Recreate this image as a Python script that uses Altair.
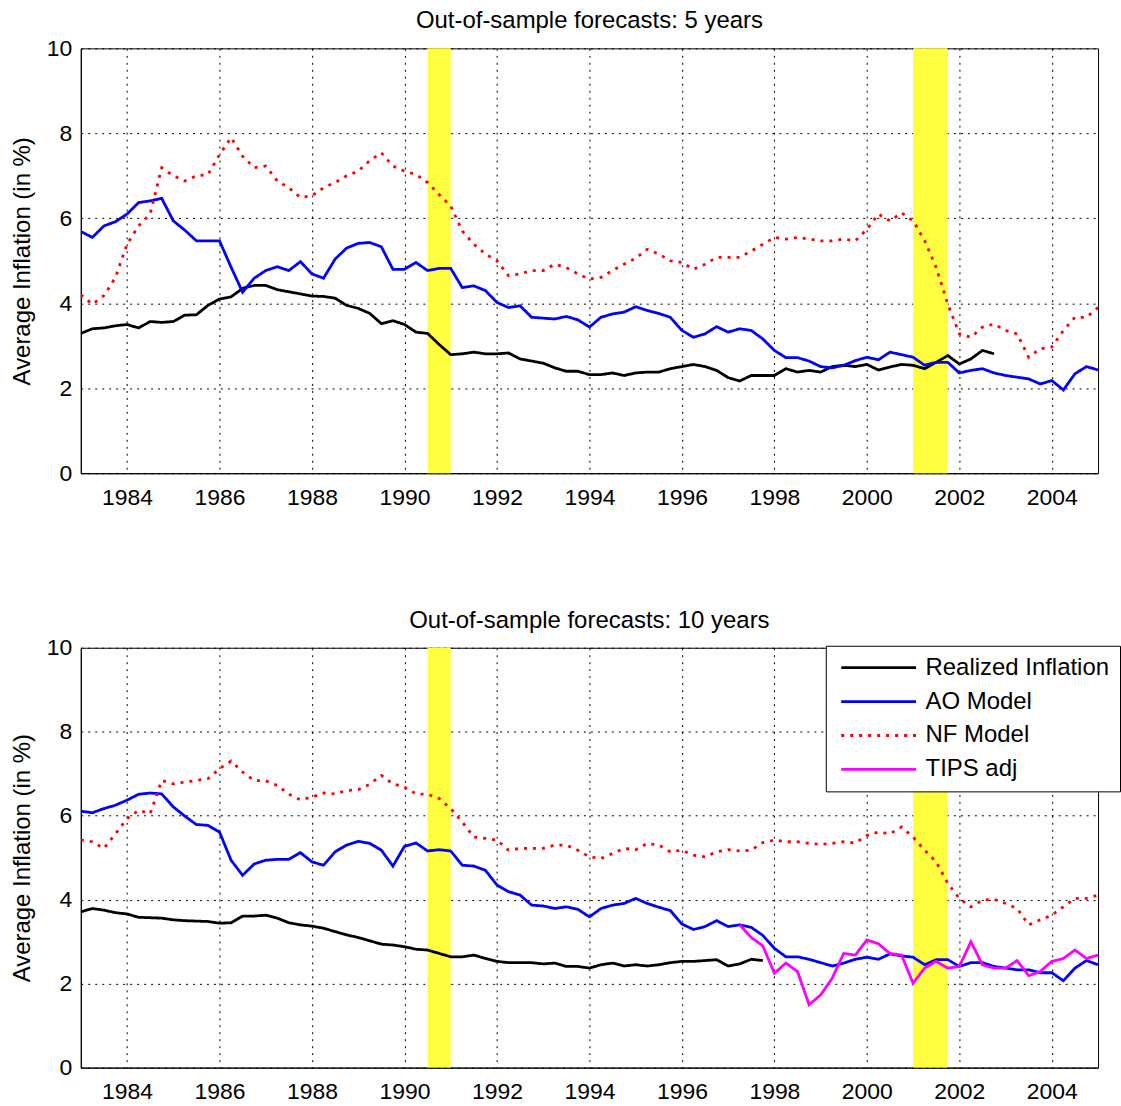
import altair as alt
import pandas as pd

# Series names, colours and line styles
SERIES = ["Realized Inflation", "AO Model", "NF Model", "TIPS adj"]
COLORS = ["#000000", "#0000ff", "#ff0000", "#ff00ff"]
DASHES = [[1, 0], [1, 0], [3, 6], [1, 0]]
WIDTHS = [2.8, 2.8, 2.5, 1.3]

# NBER recession periods (shaded)
recession_start = [1990.5, 2001.0]
recession_end = [1991.0, 2001.75]

# Quarterly observations, 5-year horizon (first value at 1983Q1)
realized_5y = [
    3.29, 3.40, 3.42, 3.47, 3.50, 3.42, 3.57, 3.55, 3.57, 3.72, 3.73, 3.95,
    4.10, 4.15, 4.35, 4.42, 4.42, 4.32, 4.27, 4.22, 4.17, 4.16, 4.12, 3.95,
    3.88, 3.76, 3.52, 3.59, 3.50, 3.32, 3.29, 3.03, 2.79, 2.81, 2.85, 2.81,
    2.81, 2.83, 2.69, 2.64, 2.59, 2.48, 2.40, 2.40, 2.32, 2.32, 2.36, 2.30,
    2.36, 2.38, 2.38, 2.46, 2.51, 2.56, 2.51, 2.42, 2.25, 2.17, 2.30, 2.30,
    2.30, 2.46, 2.38, 2.42, 2.38, 2.51, 2.54, 2.51, 2.56, 2.43, 2.50, 2.56,
    2.54, 2.46, 2.61, 2.77, 2.57, 2.69, 2.89, 2.81,
]
ao_5y = [
    5.69, 5.55, 5.82, 5.92, 6.10, 6.37, 6.41, 6.47, 5.94, 5.72, 5.47, 5.47,
    5.47, 4.85, 4.26, 4.59, 4.77, 4.86, 4.77, 4.98, 4.69, 4.59, 5.04, 5.30,
    5.41, 5.43, 5.33, 4.80, 4.80, 4.96, 4.77, 4.82, 4.82, 4.37, 4.41, 4.30,
    4.02, 3.90, 3.94, 3.67, 3.65, 3.63, 3.69, 3.61, 3.44, 3.67, 3.75, 3.79,
    3.92, 3.83, 3.76, 3.67, 3.36, 3.20, 3.28, 3.45, 3.32, 3.40, 3.36, 3.16,
    2.89, 2.72, 2.72, 2.64, 2.51, 2.48, 2.54, 2.65, 2.73, 2.67, 2.85, 2.79,
    2.73, 2.54, 2.61, 2.61, 2.36, 2.42, 2.46, 2.36, 2.30, 2.26, 2.22, 2.10,
    2.18, 1.96, 2.34, 2.51, 2.43,
]
nf_5y = [
    4.20, 3.98, 4.18, 4.61, 5.39, 5.82, 6.10, 7.19, 7.00, 6.88, 7.00, 7.03,
    7.50, 7.90, 7.46, 7.19, 7.23, 6.88, 6.72, 6.49, 6.53, 6.72, 6.84, 7.00,
    7.11, 7.36, 7.54, 7.23, 7.11, 7.03, 6.84, 6.56, 6.29, 5.70, 5.39, 5.16,
    5.00, 4.65, 4.69, 4.77, 4.77, 4.92, 4.84, 4.69, 4.57, 4.61, 4.77, 4.92,
    5.06, 5.27, 5.16, 5.00, 4.96, 4.80, 4.92, 5.08, 5.08, 5.08, 5.23, 5.39,
    5.55, 5.51, 5.55, 5.51, 5.47, 5.47, 5.51, 5.47, 5.74, 6.10, 5.94, 6.13,
    5.94, 5.47, 4.84, 3.98, 3.28, 3.20, 3.44, 3.51, 3.36, 3.28, 2.73, 2.93,
    2.97, 3.36, 3.67, 3.67, 3.90,
]

# Quarterly observations, 10-year horizon (first value at 1983Q1)
realized_10y = [
    3.71, 3.79, 3.75, 3.69, 3.66, 3.58, 3.57, 3.56, 3.52, 3.50, 3.49, 3.48,
    3.44, 3.45, 3.61, 3.61, 3.63, 3.56, 3.45, 3.40, 3.37, 3.32, 3.24, 3.16,
    3.10, 3.02, 2.94, 2.92, 2.88, 2.82, 2.80, 2.72, 2.64, 2.64, 2.68, 2.60,
    2.53, 2.50, 2.50, 2.50, 2.47, 2.49, 2.41, 2.41, 2.37, 2.45, 2.49, 2.42,
    2.45, 2.42, 2.45, 2.50, 2.53, 2.53, 2.55, 2.57, 2.42, 2.47, 2.58, 2.55,
]
ao_10y = [
    6.11, 6.07, 6.17, 6.25, 6.37, 6.51, 6.54, 6.52, 6.21, 5.99, 5.79, 5.77,
    5.61, 4.94, 4.58, 4.85, 4.94, 4.96, 4.96, 5.12, 4.90, 4.82, 5.14, 5.30,
    5.39, 5.34, 5.18, 4.80, 5.27, 5.35, 5.16, 5.19, 5.16, 4.82, 4.80, 4.70,
    4.35, 4.19, 4.11, 3.87, 3.85, 3.79, 3.83, 3.77, 3.59, 3.79, 3.87, 3.91,
    4.03, 3.91, 3.82, 3.74, 3.42, 3.29, 3.36, 3.50, 3.36, 3.40, 3.34, 3.15,
    2.84, 2.64, 2.64, 2.58, 2.50, 2.42, 2.49, 2.58, 2.63, 2.58, 2.71, 2.66,
    2.63, 2.45, 2.57, 2.57, 2.41, 2.50, 2.50, 2.41, 2.37, 2.33, 2.33, 2.26,
    2.26, 2.07, 2.37, 2.55, 2.45,
]
nf_10y = [
    5.42, 5.38, 5.22, 5.57, 5.93, 6.13, 6.05, 6.84, 6.76, 6.80, 6.84, 6.88,
    7.12, 7.30, 7.04, 6.84, 6.83, 6.72, 6.51, 6.38, 6.44, 6.54, 6.52, 6.60,
    6.62, 6.75, 6.96, 6.76, 6.68, 6.52, 6.51, 6.41, 6.17, 5.85, 5.49, 5.46,
    5.42, 5.18, 5.22, 5.22, 5.22, 5.30, 5.30, 5.18, 5.02, 4.98, 5.10, 5.22,
    5.19, 5.34, 5.30, 5.14, 5.18, 5.06, 5.02, 5.14, 5.19, 5.16, 5.18, 5.36,
    5.42, 5.38, 5.38, 5.34, 5.32, 5.34, 5.38, 5.35, 5.53, 5.61, 5.57, 5.73,
    5.49, 5.18, 4.90, 4.39, 4.03, 3.83, 3.99, 4.01, 3.91, 3.79, 3.40, 3.52,
    3.63, 3.83, 4.03, 4.03, 4.11,
]
# TIPS-implied inflation, first value at 1997Q2
tips_10y = [
    3.40, 3.10, 2.90, 2.25, 2.49, 2.29, 1.50, 1.73, 2.13, 2.72, 2.68,
    3.04, 2.95, 2.72, 2.68, 2.01, 2.37, 2.53, 2.37, 2.41, 3.00, 2.45, 2.37,
    2.37, 2.55, 2.19, 2.29, 2.53, 2.60, 2.80, 2.60, 2.68,
]


def to_frame(series_name, start, values):
    return pd.DataFrame({
        "year": [start + 0.25 * i for i in range(len(values))],
        "value": values,
        "series": series_name,
    })


df5 = pd.concat([
    to_frame("Realized Inflation", 1983.0, realized_5y),
    to_frame("AO Model", 1983.0, ao_5y),
    to_frame("NF Model", 1983.0, nf_5y),
])
df10 = pd.concat([
    to_frame("Realized Inflation", 1983.0, realized_10y),
    to_frame("AO Model", 1983.0, ao_10y),
    to_frame("NF Model", 1983.0, nf_10y),
    to_frame("TIPS adj", 1997.25, tips_10y),
])
bands = pd.DataFrame({"start": recession_start, "end": recession_end})

FONT = "Liberation Sans"
x_scale = alt.Scale(domain=[1983, 2005], nice=False, zero=False)
x_axis = alt.Axis(values=list(range(1984, 2005, 2)), format="d", title=None, labelPadding=13)
y_scale = alt.Scale(domain=[0, 10], nice=False)
y_axis = alt.Axis(values=[0, 2, 4, 6, 8, 10], title="Average Inflation (in %)")


def panel(df, title, legend):
    shade = alt.Chart(bands).mark_rect(color="#ffff40").encode(
        x=alt.X("start:Q", scale=x_scale, axis=x_axis),
        x2="end:Q",
    )
    lines = alt.Chart(df).mark_line(clip=True).encode(
        x=alt.X("year:Q", scale=x_scale, axis=x_axis),
        y=alt.Y("value:Q", scale=y_scale, axis=y_axis),
        color=alt.Color("series:N", scale=alt.Scale(domain=SERIES, range=COLORS), legend=legend),
        strokeDash=alt.StrokeDash("series:N", scale=alt.Scale(domain=SERIES, range=DASHES), legend=legend),
        strokeWidth=alt.StrokeWidth("series:N", scale=alt.Scale(domain=SERIES, range=WIDTHS), legend=legend),
    )
    return alt.layer(shade, lines).properties(
        width=1020, height=426, title=alt.TitleParams(title)
    )


legend = alt.Legend(
    title=None,
    orient="none",
    legendX=747,
    legendY=-2,
    direction="vertical",
    symbolType="stroke",
    symbolSize=5625,
    symbolOffset=4,
    clipHeight=24,
    labelFont=FONT,
    labelFontSize=24,
    labelColor="black",
    labelLimit=400,
    labelOffset=8,
    fillColor="white",
    strokeColor="black",
    padding=10,
    rowPadding=10,
)

top = panel(df5, "Out-of-sample forecasts: 5 years", None)
bottom = panel(df10, "Out-of-sample forecasts: 10 years", legend).properties(height=421)

chart = (
    alt.vconcat(top, bottom, spacing=98)
    .resolve_scale(color="independent", strokeDash="independent", strokeWidth="independent")
    .properties(padding={"left": 9, "top": 7, "right": 0, "bottom": 0}, background="white")
    .configure_view(stroke="black", strokeWidth=1)
    .configure_axis(
        domainColor="black",
        gridColor="black",
        gridDash=[2, 5],
        gridOpacity=1,
        gridWidth=1,
        ticks=False,
        labelFont=FONT,
        labelFontSize=23,
        labelColor="black",
        labelPadding=9,
        titleFont=FONT,
        titleFontSize=24,
        titleFontWeight="normal",
        titleColor="black",
        titlePadding=12,
    )
    .configure_title(font=FONT, fontSize=24, fontWeight="normal", color="black", offset=4)
)

chart.save("out.html", embed_options={"renderer": "svg", "actions": False})
